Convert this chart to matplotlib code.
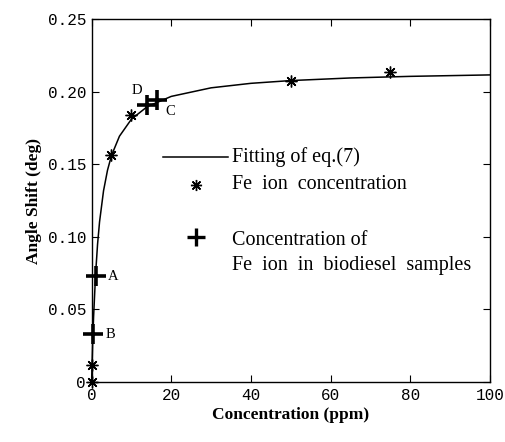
import matplotlib
matplotlib.use("Agg")
import matplotlib.pyplot as plt
from matplotlib.lines import Line2D

# Measured Fe ion concentration vs. angle shift
conc_ppm = [0, 0.1, 5, 10, 50, 75]
shift_deg = [0.0, 0.012, 0.156, 0.184, 0.207, 0.2135]

# Fitted curve of eq.(7)
fit_x = [0, 0.25, 0.5, 1, 1.5, 2, 3, 4, 5, 7, 10, 14, 20, 30, 40, 50, 65, 80, 100]
fit_y = [0.0, 0.025, 0.0447, 0.0741, 0.0949, 0.1103, 0.1317, 0.1459, 0.1560,
         0.1693, 0.1810, 0.1897, 0.1967, 0.2026, 0.2057, 0.2076, 0.2094,
         0.2105, 0.2115]

# Biodiesel samples located on the fitted curve
sample_names = ["A", "B", "C", "D"]
sample_x = [1.0, 0.35, 16.5, 14.0]
sample_y = [0.073, 0.033, 0.194, 0.191]

x_ticks = [0, 20, 40, 60, 80, 100]
y_ticks = [0, 0.05, 0.10, 0.15, 0.20, 0.25]
y_tick_labels = ["0", "0.05", "0.10", "0.15", "0.20", "0.25"]

serif = "Liberation Serif"
tick_font = "Liberation Mono"

fig = plt.figure(figsize=(5.06, 4.42), dpi=100)
ax = fig.add_axes([0.181, 0.1357, 0.968 - 0.181, 0.957 - 0.1357])

asterisk = (8, 2, 0)

ax.plot(fit_x, fit_y, color="black", lw=1.1, clip_on=False)
ax.plot(conc_ppm, shift_deg, linestyle="none", marker=asterisk, ms=8.5,
        mew=1.0, color="black", clip_on=False, zorder=4)
ax.plot(sample_x, sample_y, linestyle="none", marker="+", ms=15, mew=2.6,
        color="black", clip_on=False, zorder=5)

# Sample letters next to their markers
offsets = {"A": (9, 0, "left", "center"), "B": (9, 0, "left", "center"),
           "C": (6, -8, "left", "center"), "D": (-4, 10, "right", "center")}
for name, x, y in zip(sample_names, sample_x, sample_y):
    dx, dy, ha, va = offsets[name]
    ax.annotate(name, (x, y), xytext=(dx, dy), textcoords="offset points",
                ha=ha, va=va, fontsize=10.5, family=serif)

ax.set_xlim(0, 100)
ax.set_ylim(0, 0.25)
ax.set_xticks(x_ticks)
ax.set_yticks(y_ticks)
ax.set_yticklabels(y_tick_labels)
ax.tick_params(direction="in", top=True, right=True, length=5, width=0.8,
               labelsize=11.5, pad=4)
for lbl in ax.get_xticklabels() + ax.get_yticklabels():
    lbl.set_family(tick_font)
for sp in ax.spines.values():
    sp.set_linewidth(1.0)

ax.set_xlabel("Concentration (ppm)", family=serif, fontweight="bold",
              fontsize=12.5, labelpad=3)
ax.set_ylabel("Angle Shift (deg)", family=serif, fontweight="bold",
              fontsize=12.5, labelpad=4)

# Legend drawn by hand in axes coordinates
tr = ax.transAxes
ax.add_line(Line2D([0.179, 0.342], [0.620, 0.620], color="black", lw=1.1,
                   transform=tr))
ax.add_line(Line2D([0.262], [0.543], marker=asterisk, ms=8, mew=1.0,
                   color="black", linestyle="none", transform=tr))
ax.add_line(Line2D([0.262], [0.399], marker="+", ms=13, mew=2.4,
                   color="black", linestyle="none", transform=tr))
leg_font = dict(family=serif, fontsize=14.5, transform=tr, ha="left",
                va="center")
ax.text(0.352, 0.620, "Fitting of eq.(7)", **leg_font)
ax.text(0.352, 0.543, "Fe  ion  concentration", **leg_font)
ax.text(0.352, 0.391, "Concentration of", **leg_font)
ax.text(0.352, 0.322, "Fe  ion  in  biodiesel  samples", clip_on=False,
        **leg_font)

fig.savefig("out.png", dpi=100)
